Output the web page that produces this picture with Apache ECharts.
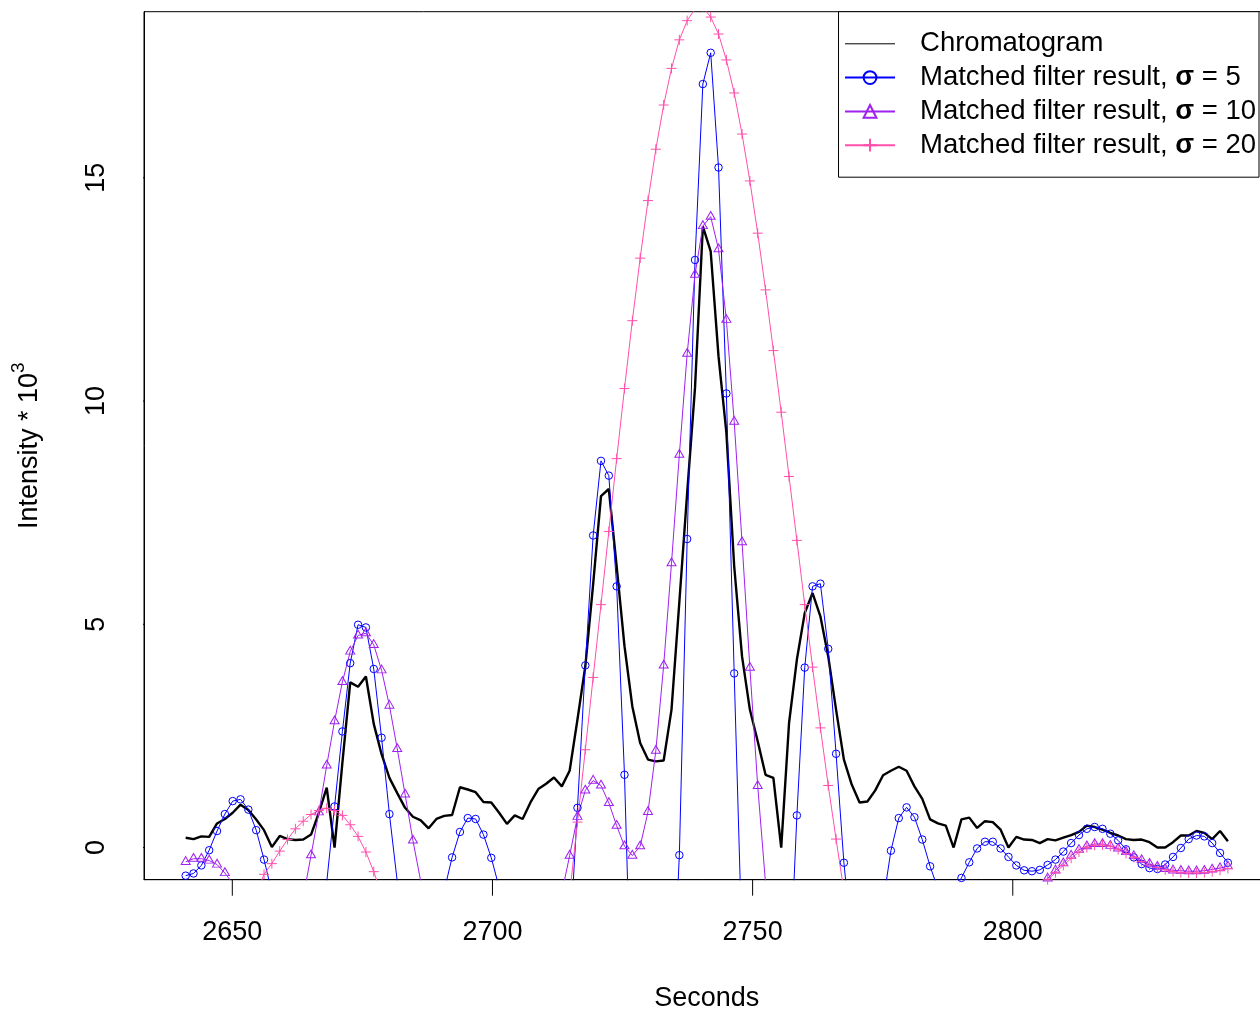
<!DOCTYPE html>
<html>
<head>
<meta charset="utf-8">
<title>Matched filter results</title>
<script src="https://cdn.jsdelivr.net/npm/echarts@6/dist/echarts.min.js"></script>
<style>
html, body { margin: 0; padding: 0; background: #fff; }
#chartmain { width: 1260px; height: 1009px; }
</style>
</head>
<body>
<div id="chartmain"></div>
<script>
// scan grid: one scan every 1.506 s, first scan at 2641.04 s
var scanStart = 2641.04;
var scanStep = 1.506;

var chromatogram = [
	0.22, 0.19, 0.25, 0.24, 0.54, 0.64, 0.78, 0.96, 0.84, 0.63,
	0.39, 0.01, 0.26, 0.19, 0.17, 0.18, 0.29, 0.78, 1.34, 0.00,
	1.90, 3.70, 3.60, 3.83, 2.77, 2.09, 1.56, 1.22, 0.89, 0.69,
	0.61, 0.43, 0.64, 0.71, 0.73, 1.35, 1.30, 1.24, 1.02, 1.01,
	0.78, 0.53, 0.72, 0.64, 1.01, 1.31, 1.43, 1.57, 1.37, 1.72,
	2.87, 4.06, 5.90, 7.87, 8.03, 6.30, 4.51, 3.16, 2.34, 1.97,
	1.93, 1.95, 3.09, 5.50, 7.95, 10.30, 13.91, 13.35, 11.00, 9.30,
	6.30, 4.28, 3.09, 2.38, 1.63, 1.56, 0.00, 2.79, 4.21, 5.25,
	5.70, 5.18, 4.28, 3.09, 1.97, 1.41, 1.01, 1.03, 1.28, 1.62,
	1.72, 1.81, 1.72, 1.37, 1.09, 0.63, 0.54, 0.49, 0.00, 0.63,
	0.67, 0.44, 0.59, 0.57, 0.40, 0.00, 0.24, 0.18, 0.17, 0.10,
	0.19, 0.16, 0.22, 0.28, 0.35, 0.49, 0.46, 0.40, 0.33, 0.27,
	0.19, 0.17, 0.18, 0.12, 0.00, 0.00, 0.12, 0.27, 0.27, 0.37,
	0.33, 0.19, 0.37, 0.14
];

var sigma5 = [
	-0.63, -0.58, -0.40, -0.06, 0.37, 0.75, 1.04, 1.08, 0.85, 0.39,
	-0.27, -1.00, -1.60, -1.90, -2.00, -1.90, -1.60, -1.20, -0.78, 0.92,
	2.60, 4.13, 4.99, 4.93, 4.00, 2.46, 0.75, -0.76, -1.70, -2.10,
	-2.20, -2.00, -1.60, -0.96, -0.22, 0.35, 0.66, 0.64, 0.29, -0.23,
	-0.89, -1.40, -1.70, -1.80, -1.80, -1.80, -1.90, -2.00, -2.20, -2.20,
	0.89, 4.08, 6.99, 8.66, 8.33, 5.85, 1.63, -4.50, -5.20, -5.40,
	-5.20, -4.80, -4.00, -0.17, 6.91, 13.16, 17.10, 17.80, 15.23, 10.17,
	3.90, -2.20, -4.50, -5.20, -5.30, -5.00, -4.30, -3.30, 0.72, 4.03,
	5.85, 5.91, 4.45, 2.10, -0.34, -2.10, -2.40, -2.20, -1.80, -1.23,
	-0.07, 0.66, 0.90, 0.68, 0.18, -0.42, -0.92, -1.10, -0.95, -0.68,
	-0.33, -0.02, 0.13, 0.13, -0.02, -0.21, -0.40, -0.51, -0.53, -0.50,
	-0.39, -0.27, -0.09, 0.10, 0.28, 0.42, 0.46, 0.42, 0.31, 0.16,
	-0.04, -0.22, -0.37, -0.46, -0.48, -0.38, -0.21, -0.01, 0.19, 0.27,
	0.25, 0.10, -0.12, -0.34
];

var sigma10 = [
	-0.32, -0.25, -0.25, -0.29, -0.38, -0.57, -0.80, -1.30, -1.80, -2.30,
	-2.70, -2.90, -2.80, -2.50, -1.90, -1.12, -0.17, 0.79, 1.84, 2.83,
	3.71, 4.39, 4.75, 4.80, 4.54, 3.97, 3.18, 2.21, 1.19, 0.16,
	-0.76, -1.60, -2.30, -2.80, -3.10, -3.20, -3.20, -3.10, -3.00, -2.90,
	-2.80, -2.70, -2.70, -2.80, -2.90, -2.90, -2.60, -1.90, -1.02, -0.18,
	0.69, 1.28, 1.50, 1.39, 1.00, 0.49, 0.03, -0.18, 0.03, 0.80,
	2.17, 4.08, 6.37, 8.80, 11.06, 12.83, 13.92, 14.13, 13.40, 11.82,
	9.54, 6.84, 4.03, 1.38, -0.80, -2.50, -3.60, -4.10, -4.20, -4.00,
	-3.60, -3.00, -2.30, -1.60, -1.05, -0.78, -0.85, -1.10, -1.40, -1.70,
	-1.90, -2.05, -2.10, -2.00, -1.90, -1.85, -1.70, -1.65, -1.55, -1.50,
	-1.50, -1.40, -1.35, -1.35, -1.25, -1.15, -1.10, -1.00, -0.92, -0.82,
	-0.69, -0.51, -0.35, -0.18, -0.05, 0.03, 0.08, 0.08, 0.04, -0.02,
	-0.10, -0.19, -0.28, -0.36, -0.43, -0.48, -0.51, -0.52, -0.53, -0.53,
	-0.52, -0.49, -0.46, -0.42
];

var sigma20 = [
	-1.30, -1.45, -1.60, -1.70, -1.75, -1.75, -1.70, -1.60, -1.40, -1.05,
	-0.60, -0.36, -0.08, 0.18, 0.42, 0.59, 0.74, 0.83, 0.88, 0.83,
	0.72, 0.51, 0.25, -0.10, -0.54, -1.05, -1.60, -2.20, -2.80, -3.30,
	-3.80, -4.20, -4.60, -4.90, -5.10, -5.30, -5.40, -5.40, -5.35, -5.30,
	-5.20, -5.10, -5.00, -4.90, -4.80, -4.70, -4.50, -3.90, -2.60, -1.05,
	0.57, 2.19, 3.81, 5.44, 7.08, 8.71, 10.28, 11.80, 13.20, 14.49,
	15.64, 16.63, 17.45, 18.09, 18.52, 18.78, 18.82, 18.60, 18.22, 17.64,
	16.90, 15.98, 14.93, 13.76, 12.49, 11.13, 9.75, 8.31, 6.88, 5.44,
	4.04, 2.68, 1.39, 0.19, -0.97, -2.00, -2.90, -3.60, -4.20, -4.60,
	-4.90, -5.00, -5.00, -4.90, -4.70, -4.40, -4.10, -3.80, -3.50, -3.20,
	-2.90, -2.60, -2.30, -2.00, -1.80, -1.60, -1.40, -1.20, -1.05, -0.88,
	-0.72, -0.56, -0.40, -0.24, -0.10, 0.00, 0.05, 0.06, 0.03, -0.04,
	-0.13, -0.22, -0.31, -0.39, -0.45, -0.50, -0.54, -0.56, -0.57, -0.57,
	-0.56, -0.54, -0.51, -0.47
];

var xTicks = [2650, 2700, 2750, 2800];
var yTicks = [0, 5, 10, 15];
var names = [
	'Chromatogram',
	'Matched filter result, σ = 5',
	'Matched filter result, σ = 10',
	'Matched filter result, σ = 20'
];

var font = '"Liberation Sans", Arial, Helvetica, sans-serif';
var blue = '#0000ff', purple = '#a020f0', pink = '#ff4fab';
var xMin = 2633.03, xMax = 2849.32, yMin = -0.72, yMax = 18.72;
// outward tick length (16 px) expressed in axis units
var xTickLen = 16 / 5.203, yTickLen = 16 / 44.65;

function pairs(values) {
	return values.map(function(v, i) {
		return [ scanStart + i * scanStep, v ];
	});
}

function markerSeries(name, values, color, symbol, size, offset) {
	return {
		name : name,
		type : 'line',
		data : pairs(values),
		symbol : symbol,
		symbolSize : size,
		symbolOffset : offset || [ 0, 0 ],
		showSymbol : true,
		showAllSymbol : true,
		clip : true,
		lineStyle : { color : color, width : 1 },
		itemStyle : { color : 'rgba(0,0,0,0)', borderColor : color, borderWidth : 1 },
		emphasis : { disabled : true }
	};
}

// tick segments, broken apart with '-' so each one is drawn on its own
var tickData = [];
xTicks.forEach(function(t) {
	tickData.push([ t, yMin ], [ t, yMin - yTickLen ], [ '-', '-' ]);
});
yTicks.forEach(function(t) {
	tickData.push([ xMin, t ], [ xMin - xTickLen, t ], [ '-', '-' ]);
});

var option = {
	animation : false,
	backgroundColor : '#fff',
	grid : {
		left : 144,
		top : 11.7,
		width : 1125.4,
		height : 868,
		outerBoundsMode : 'none',
		containLabel : false,
		show : true,
		borderColor : '#000',
		borderWidth : 1,
		backgroundColor : 'transparent'
	},
	legend : {
		orient : 'vertical',
		right : 1,
		top : 11.7,
		itemWidth : 50,
		itemHeight : 16,
		itemGap : 5.8,
		padding : [ 18.1, 3, 18, 5.5 ],
		borderColor : '#000',
		borderWidth : 1,
		backgroundColor : '#fff',
		data : [
			{ name : names[0], itemStyle : { opacity : 0 }, lineStyle : { width : 1 } },
			{ name : names[1] },
			{ name : names[2] },
			{ name : names[3] }
		],
		formatter : function(name) {
			var k = name.indexOf('σ');
			if (k < 0) {
				return '{t|' + name + '}';
			}
			return '{t|' + name.slice(0, k) + '}{s|σ}{u|' + name.slice(k + 1) + '}';
		},
		textStyle : {
			fontFamily : font,
			fontSize : 27.5,
			color : '#000',
			rich : {
				t : { fontFamily : font, fontSize : 27.5, color : '#000', padding : [ 0, 0, 0, 20 ] },
				s : { fontFamily : font, fontSize : 27.5, color : '#000', fontWeight : 'bold' },
				u : { fontFamily : font, fontSize : 27.5, color : '#000' }
			}
		}
	},
	xAxis : {
		type : 'value',
		min : xMin,
		max : xMax,
		name : 'Seconds',
		nameLocation : 'middle',
		nameGap : 104,
		nameTextStyle : { fontFamily : font, fontSize : 27, color : '#000', lineHeight : 30 },
		axisLine : { show : true, onZero : false, lineStyle : { color : '#000', width : 1 } },
		axisTick : { show : false },
		axisLabel : {
			customValues : xTicks,
			interval : 0,
			margin : 38,
			fontFamily : font,
			fontSize : 27,
			color : '#000',
			lineHeight : 30,
			formatter : function(v) { return String(v); }
		},
		splitLine : { show : false }
	},
	yAxis : {
		type : 'value',
		min : yMin,
		max : yMax,
		name : '{a|Intensity * 10}{b|3}',
		nameLocation : 'middle',
		nameRotate : 90,
		nameGap : 93,
		nameTextStyle : {
			rich : {
				a : { fontFamily : font, fontSize : 27, color : '#000', lineHeight : 42 },
				b : { fontFamily : font, fontSize : 19, color : '#000', lineHeight : 19, verticalAlign : 'top' }
			}
		},
		axisLine : { show : true, onZero : false, lineStyle : { color : '#000', width : 1 } },
		axisTick : { show : false },
		axisLabel : {
			customValues : yTicks,
			interval : 0,
			rotate : 90,
			margin : 32,
			fontFamily : font,
			fontSize : 27,
			color : '#000',
			lineHeight : 30,
			formatter : function(v) { return String(v); }
		},
		splitLine : { show : false }
	},
	series : [
		{
			name : names[0],
			type : 'line',
			data : pairs(chromatogram),
			symbol : 'none',
			clip : true,
			lineStyle : { color : '#000', width : 2.4 },
			itemStyle : { color : '#000' },
			emphasis : { disabled : true }
		},
		markerSeries(names[1], sigma5, blue, 'circle', 7.5),
		markerSeries(names[2], sigma10, purple, 'triangle', [ 9, 7.8 ], [ 0, -1.3 ]),
		markerSeries(names[3], sigma20, pink, 'path://M0,5L10,5M5,0L5,10', 10),
		{
			name : 'ticks',
			type : 'line',
			data : tickData,
			symbol : 'none',
			clip : false,
			silent : true,
			connectNulls : false,
			z : 10,
			lineStyle : { color : '#000', width : 1 },
			itemStyle : { color : '#000' },
			emphasis : { disabled : true }
		}
	]
};

var myChart = echarts.init(document.getElementById('chartmain'));
myChart.setOption(option);
</script>
</body>
</html>
